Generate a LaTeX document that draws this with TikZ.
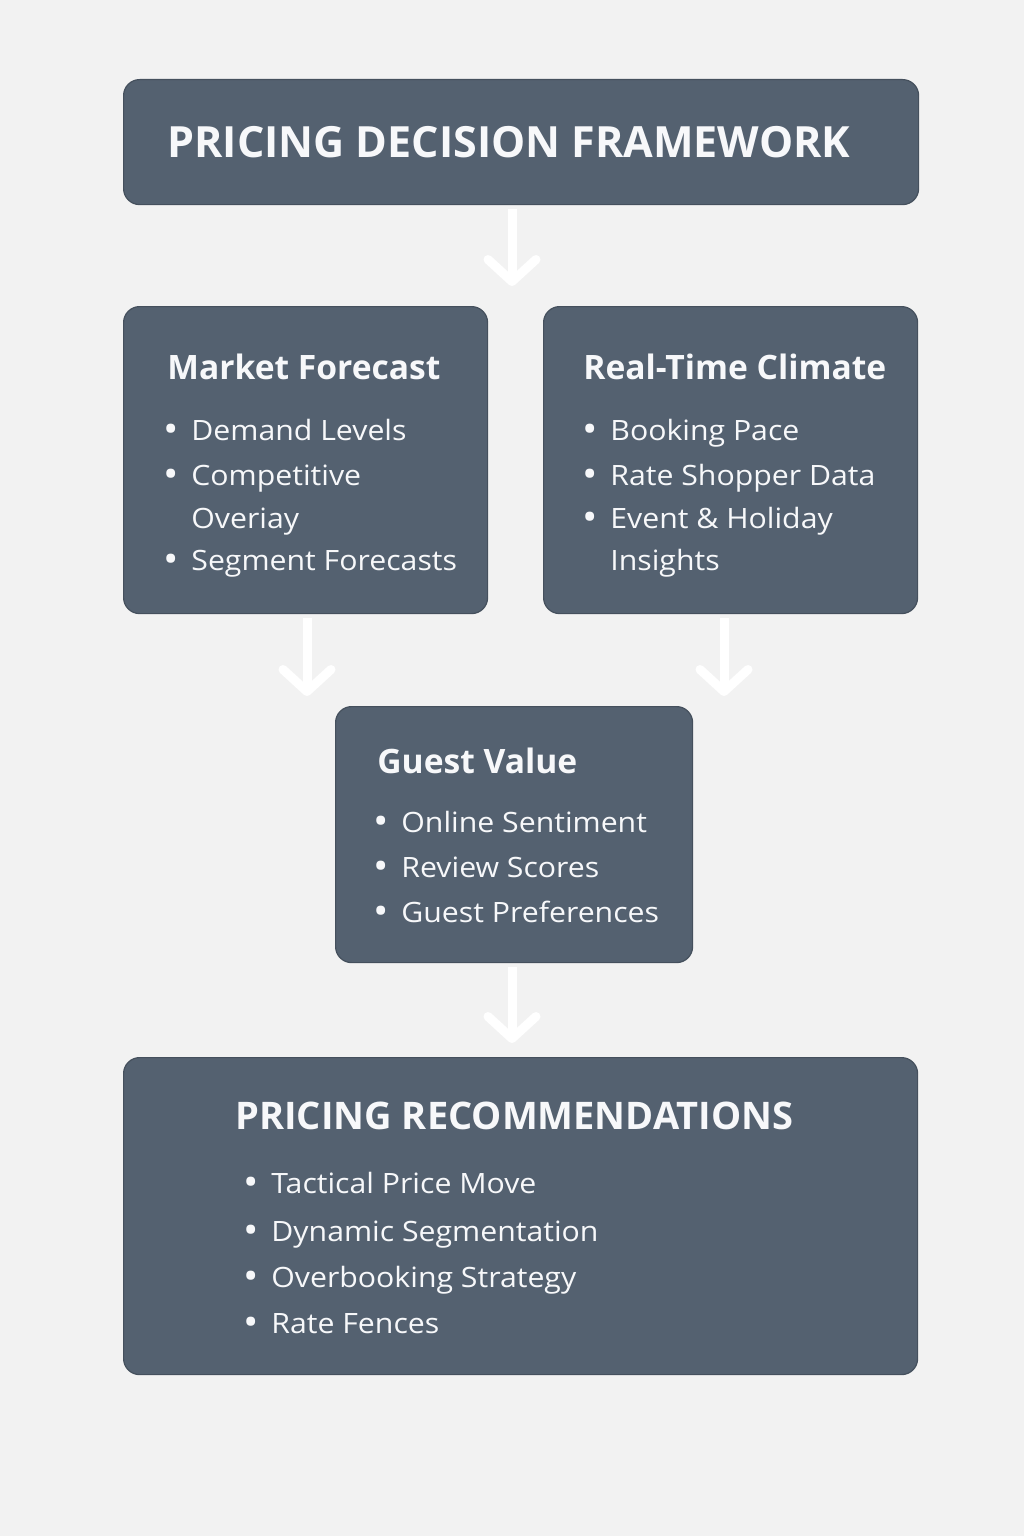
\documentclass[tikz,border=0pt]{standalone}
\usepackage{fontspec}
\setmainfont{Open Sans}
\newfontfamily\bodyfont[FakeStretch=1.08]{Open Sans}
\usetikzlibrary{arrows.meta}

\definecolor{pagebg}{HTML}{F2F2F2}
\definecolor{boxfill}{HTML}{546170}
\definecolor{boxline}{HTML}{45505D}
\definecolor{boxtext}{HTML}{F7F8FA}

\newcommand{\bul}{\llap{\raisebox{-1.4pt}{\scalebox{1.35}{\textbullet}}\hspace{6.5pt}}}

\begin{document}
\begin{tikzpicture}[x=0.5pt,y=-0.5pt,
panel/.style={draw=boxline, line width=0.6pt, fill=boxfill, rounded corners=8pt,
  inner sep=0pt, anchor=north west},
head/.style={text=boxtext, anchor=base west, inner sep=0pt, font=\fontsize{21.5}{26}\selectfont\bfseries},
subhead/.style={text=boxtext, anchor=base west, inner sep=0pt, font=\fontsize{16.8}{20}\selectfont\bfseries},
item/.style={text=boxtext, anchor=base west, inner sep=0pt, font=\bodyfont\fontsize{14}{17}\selectfont},
flow/.style={draw=white, line width=4.5pt, -{Straight Barb[length=11pt,width=24pt,round]}},
]
\fill[pagebg] (0,0) rectangle (1024,1536);
\useasboundingbox (0,0) rectangle (1024,1536);

% boxes
\node[panel, minimum width=397.5pt, minimum height=62.5pt] (top) at (123,79) {};
\node[panel, minimum width=182pt, minimum height=153.5pt] (mf) at (123,306) {};
\node[panel, minimum width=187pt, minimum height=153.5pt] (rt) at (543,306) {};
\node[panel, minimum width=178.5pt, minimum height=128pt] (gv) at (335,706) {};
\node[panel, minimum width=397pt, minimum height=158.5pt] (rec) at (123,1057) {};

% titles
\node[head] (top-t) at (167,157) {PRICING DECISION FRAMEWORK};
\node[subhead] (mf-t) at (167,379) {Market Forecast};
\node[subhead] (rt-t) at (583,379) {Real-Time Climate};
\node[subhead] (gv-t) at (377,773) {Guest Value};
\node[head, font=\fontsize{19}{23}\selectfont\bfseries] (rec-t) at (235,1129) {PRICING RECOMMENDATIONS};

% lists
\foreach \yy/\tx [count=\i] in {440/\bul Demand Levels, 485/\bul Competitive,
  528/Overiay, 570/\bul Segment Forecasts}
  \node[item] (mf-\i) at (191,\yy) {\tx};
\foreach \yy/\tx [count=\i] in {440/\bul Booking Pace, 485/\bul Rate Shopper Data,
  528/\bul Event \& Holiday, 570/Insights}
  \node[item] (rt-\i) at (610,\yy) {\tx};
\foreach \yy/\tx [count=\i] in {832/\bul Online Sentiment, 877/\bul Review Scores,
  922/\bul Guest Preferences}
  \node[item] (gv-\i) at (401,\yy) {\tx};
\foreach \yy/\tx [count=\i] in {1193/\bul Tactical Price Move, 1241/\bul Dynamic Segmentation,
  1287/\bul Overbooking Strategy, 1333/\bul Rate Fences}
  \node[item] (rec-\i) at (271,\yy) {\tx};

% arrows
\coordinate (a1) at (512,286);
\coordinate (a2) at (307,696);
\coordinate (a3) at (724,696);
\coordinate (a4) at (512,1043);
\draw[flow] ([yshift=-2pt]top.south -| a1) -- (a1);
\draw[flow] ([yshift=-2pt]mf.south -| a2) -- (a2);
\draw[flow] ([yshift=-2pt]rt.south -| a3) -- (a3);
\draw[flow] ([yshift=-2pt]gv.south -| a4) -- (a4);
\end{tikzpicture}
\end{document}
